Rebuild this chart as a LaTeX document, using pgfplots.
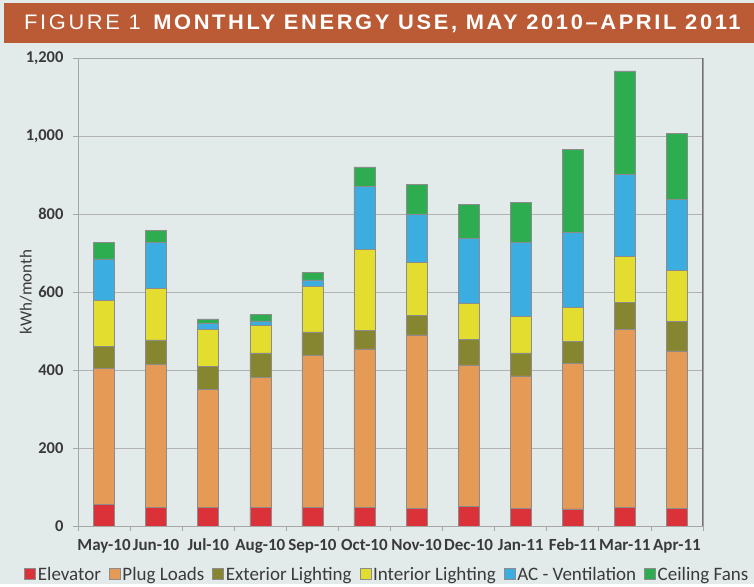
\documentclass[border=0pt]{standalone}
\usepackage{fontspec}
\setmainfont{Carlito}
\newfontfamily\titlefont[LetterSpace=12]{Liberation Sans}
\usepackage{graphicx}
\usepackage{pgfplots}
\pgfplotsset{compat=1.18}
\definecolor{bgc}{HTML}{E3EAEA}
\definecolor{titlec}{HTML}{BB5B36}
\definecolor{elev}{HTML}{DA3238}
\definecolor{plug}{HTML}{E59A55}
\definecolor{extl}{HTML}{868530}
\definecolor{intl}{HTML}{E2DD2E}
\definecolor{acv}{HTML}{3CADE0}
\definecolor{fans}{HTML}{2EAD50}
\definecolor{txt}{HTML}{3A3A3A}
\begin{document}
\begin{tikzpicture}[x=1pt,y=1pt]
\fill[bgc] (0,0) rectangle (754,584);
\fill[titlec] (4,541) rectangle (754,581);
\node[anchor=base west, text=white, inner sep=0pt] at (24,554) {\resizebox{719pt}{\height}{\titlefont\fontsize{21}{24}\selectfont FIGURE 1\hspace{0.45em}\textbf{MONTHLY ENERGY USE, MAY 2010–APRIL 2011}}};
\begin{axis}[
  at={(78pt,58pt)}, anchor=south west,
  scale only axis, width=625pt, height=468pt,
  ybar stacked, bar width=21pt,
  xmin=-0.5, xmax=11.5, ymin=0, ymax=1200,
  xtick={-0.5,0.5,...,11.5},
  x tick label as interval,
  xticklabels={May-10,Jun-10,Jul-10,Aug-10,Sep-10,Oct-10,Nov-10,Dec-10,Jan-11,Feb-11,Mar-11,Apr-11},
  ytick={0,200,...,1200},
  xtick pos=bottom, ytick pos=left,
  tick align=outside,
  major tick length=5pt,
  tick style={draw=gray!70, line width=0.8pt},
  axis line style={draw=gray!70, line width=0.8pt},
  ymajorgrids,
  major grid style={draw=gray!60, line width=0.8pt},
  /pgf/number format/assume math mode=true,
  /pgf/number format/1000 sep={,},
  yticklabel style={font=\bfseries\fontsize{16.5}{18}\selectfont, text=txt, xshift=-6pt},
  xticklabel style={font=\bfseries\fontsize{17}{19}\selectfont, text=txt, yshift=-4pt, text height=12pt, text depth=4pt},
  ylabel={kWh/month},
  ylabel style={at={(axis description cs:-0.083,0.5)}, anchor=center, font=\fontsize{17}{20}\selectfont, text=txt},
  legend columns=6,
  legend style={at={(0.495,-0.105)}, anchor=center, draw=none, fill=none,
    font=\fontsize{19}{21}\selectfont, text=txt,
    /tikz/every even column/.append style={column sep=6pt}},
  legend image code/.code={\fill[#1] (0pt,-4.5pt) rectangle (11pt,6.5pt);},
  every axis plot/.append style={draw=black!45, line width=0.5pt},
]
\addplot[fill=elev] coordinates {(0,56) (1,48) (2,48) (3,48) (4,48) (5,48) (6,46) (7,50) (8,46) (9,44) (10,47) (11,46)};
\addplot[fill=plug] coordinates {(0,348) (1,367) (2,302) (3,333) (4,390) (5,406) (6,444) (7,363) (8,339) (9,373) (10,457) (11,403)};
\addplot[fill=extl] coordinates {(0,57) (1,62) (2,60) (3,63) (4,60) (5,48) (6,51) (7,66) (8,59) (9,57) (10,69) (11,75)};
\addplot[fill=intl] coordinates {(0,117) (1,132) (2,94) (3,71) (4,117) (5,208) (6,134) (7,92) (8,93) (9,87) (10,119) (11,131)};
\addplot[fill=acv] coordinates {(0,107) (1,118) (2,16) (3,11) (4,16) (5,160) (6,125) (7,167) (8,190) (9,192) (10,210) (11,183)};
\addplot[fill=fans] coordinates {(0,43) (1,31) (2,11) (3,16) (4,19) (5,51) (6,76) (7,87) (8,102) (9,213) (10,265) (11,169)};
\legend{Elevator,Plug Loads,Exterior Lighting,Interior Lighting,AC - Ventilation,Ceiling Fans}
\draw[black!55, line width=2pt] (rel axis cs:1,0) -- (rel axis cs:1,1);
\end{axis}
\end{tikzpicture}
\end{document}
